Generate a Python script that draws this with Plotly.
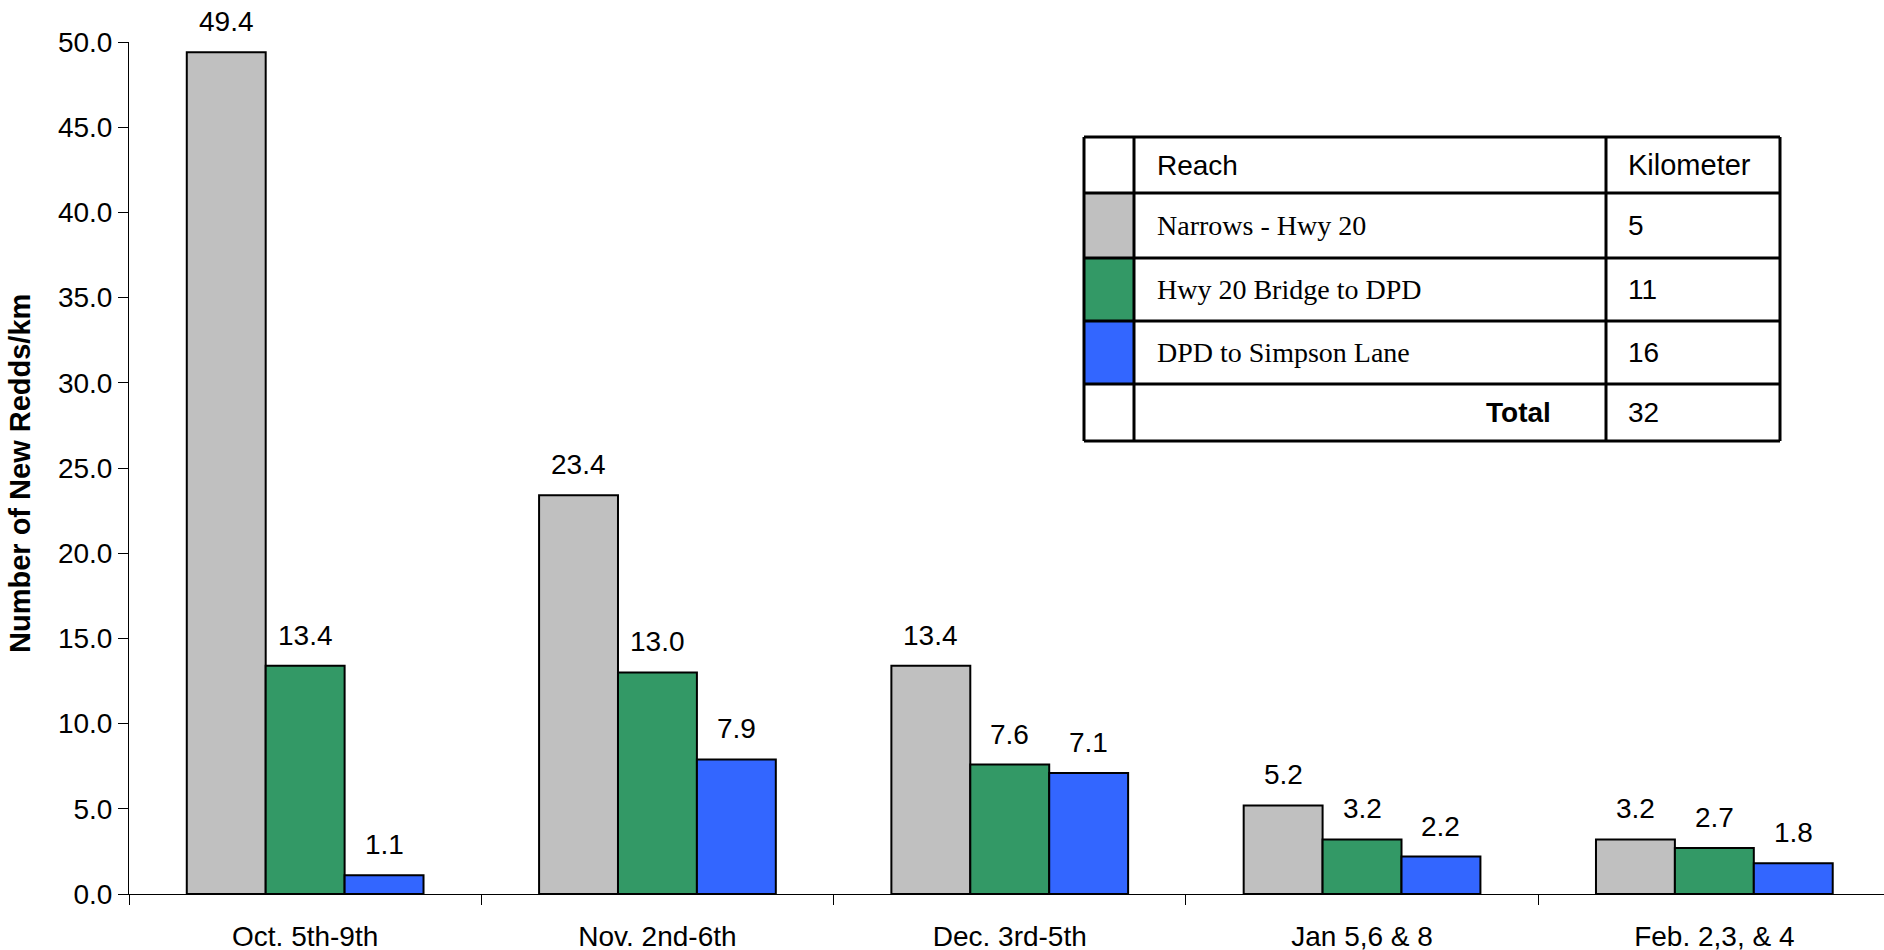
import plotly.graph_objects as go

# Survey periods and new redds per km for each reach
periods = ["Oct. 5th-9th", "Nov. 2nd-6th", "Dec. 3rd-5th", "Jan 5,6 & 8", "Feb. 2,3, & 4"]
narrows_hwy20 = [49.4, 23.4, 13.4, 5.2, 3.2]
hwy20_to_dpd = [13.4, 13.0, 7.6, 3.2, 2.7]
dpd_to_simpson = [1.1, 7.9, 7.1, 2.2, 1.8]

reach_names = ["Narrows - Hwy 20", "Hwy 20 Bridge to DPD", "DPD to Simpson Lane"]
reach_km = [5, 11, 16]
total_km = 32
reach_colors = ["#C0C0C0", "#339966", "#3366FF"]

series = [narrows_hwy20, hwy20_to_dpd, dpd_to_simpson]

W, H = 1884, 950
ML, MR, MT, MB = 129, 0, 42, 56
PW, PH = W - ML - MR, H - MT - MB

SANS = "Liberation Sans, Arial, sans-serif"
SERIF = "Liberation Serif, Times New Roman, serif"
FS = 28

bar_w = 0.224
cat_px = 352.3
x_end = -0.5 + PW / cat_px

fig = go.Figure()
annotations = []
for j, (vals, name, color) in enumerate(zip(series, reach_names, reach_colors)):
    xs = [i + (j - 1) * bar_w for i in range(len(periods))]
    fig.add_trace(go.Bar(
        x=xs, y=vals, width=bar_w, name=name,
        marker=dict(color=color, line=dict(color="black", width=2)),
        showlegend=False,
    ))
    for x, v in zip(xs, vals):
        annotations.append(dict(
            x=x, y=v, xref="x", yref="y", text=f"{v:.1f}", showarrow=False,
            xanchor="center", yanchor="bottom", yshift=13,
            font=dict(family=SANS, size=FS, color="black"),
        ))


def px_x(p):
    return (p - ML) / PW


def px_y(p):
    return (H - MB - p) / PH


# Reach / kilometer table drawn as a legend
t_left, t_c1, t_c2, t_right = 1084, 1134, 1606, 1780
row_y = [137, 193, 258, 321, 384, 441]
shapes = []
for k, color in enumerate(reach_colors):
    shapes.append(dict(
        type="rect", xref="paper", yref="paper",
        x0=px_x(t_left), x1=px_x(t_c1), y0=px_y(row_y[k + 2]), y1=px_y(row_y[k + 1]),
        fillcolor=color, line=dict(width=0), layer="above",
    ))
lw = 3
for yy in row_y:
    shapes.append(dict(type="line", xref="paper", yref="paper",
                       x0=px_x(t_left), x1=px_x(t_right), y0=px_y(yy), y1=px_y(yy),
                       line=dict(color="black", width=lw), layer="above"))
for xx in (t_left, t_c1, t_c2, t_right):
    shapes.append(dict(type="line", xref="paper", yref="paper",
                       x0=px_x(xx), x1=px_x(xx), y0=px_y(row_y[0]), y1=px_y(row_y[-1]),
                       line=dict(color="black", width=lw), layer="above"))


def cell_text(text, x, row, family, anchor="left", bold=False, size=FS):
    yc = (row_y[row] + row_y[row + 1]) / 2
    annotations.append(dict(
        x=px_x(x), y=px_y(yc), xref="paper", yref="paper",
        text=f"<b>{text}</b>" if bold else text, showarrow=False,
        xanchor=anchor, yanchor="middle",
        font=dict(family=family, size=size, color="black"),
    ))


cell_text("Reach", 1155, 0, SANS)
cell_text("Kilometer", 1626, 0, SANS, size=29)
for k, (nm, km) in enumerate(zip(reach_names, reach_km)):
    cell_text(nm, 1155, k + 1, SERIF)
    cell_text(str(km), 1626, k + 1, SANS)
cell_text("Total", 1553, 4, SANS, anchor="right", bold=True)
cell_text(str(total_km), 1626, 4, SANS)

# Vertical axis title
annotations.append(dict(
    x=px_x(20), y=px_y(474), xref="paper", yref="paper",
    text="<b>Number of New Redds/km</b>", showarrow=False, textangle=-90,
    xanchor="center", yanchor="middle",
    font=dict(family=SANS, size=29, color="black"),
))

fig.update_layout(
    width=W, height=H,
    margin=dict(l=ML, r=MR, t=MT, b=MB, autoexpand=False),
    paper_bgcolor="white", plot_bgcolor="white",
    barmode="overlay",
    shapes=shapes, annotations=annotations,
    xaxis=dict(
        range=[-0.5, x_end], tickmode="array",
        tickvals=list(range(len(periods))), ticktext=periods,
        ticks="outside", ticklen=17, tickcolor="rgba(0,0,0,0)",
        showline=True, linecolor="black", linewidth=1,
        showgrid=False, zeroline=False,
        tickfont=dict(family=SANS, size=FS, color="black"),
        minor=dict(tickmode="array", tickvals=[i - 0.5 for i in range(len(periods) + 1)],
                   ticks="outside", ticklen=10, tickcolor="black", tickwidth=1, showgrid=False),
    ),
    yaxis=dict(
        range=[0, 50], tickmode="linear", tick0=0, dtick=5, tickformat=".1f",
        ticks="outside", ticklen=10, tickcolor="black", tickwidth=1,
        showline=True, linecolor="black", linewidth=1,
        showgrid=False, zeroline=False,
        tickfont=dict(family=SANS, size=FS, color="black"),
    ),
)

fig.write_html("out.html")
